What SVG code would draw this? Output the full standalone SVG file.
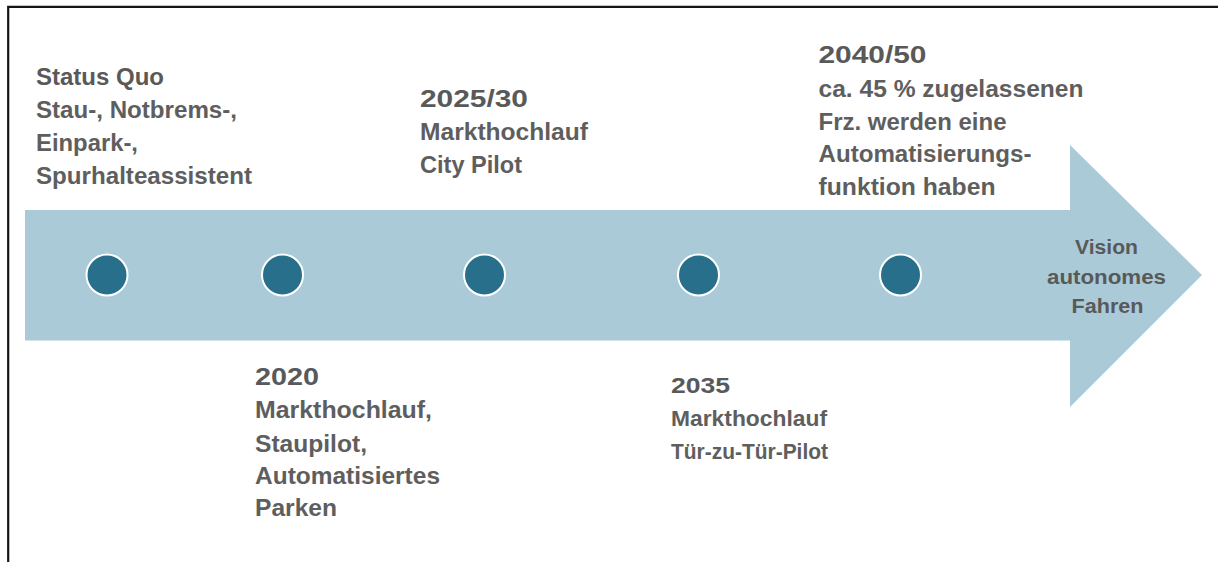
<svg xmlns="http://www.w3.org/2000/svg" width="1218" height="562" viewBox="0 0 1218 562">
  <style>
    .frame { fill: none; stroke: #151515; stroke-width: 2.2; }
    .band { fill: #AACAD8; }
    .dot { fill: #276F8B; stroke: #FFFFFF; stroke-width: 2; }
    .head { font-family: "Liberation Sans", Arial, sans-serif; font-weight: 700; font-size: 24px; fill: #595959; }
    .body { font-family: "Liberation Sans", Arial, sans-serif; font-weight: 700; font-size: 23px; fill: #5E5E5E; }
    .small { font-size: 22px; }
    .vision { font-family: "Liberation Sans", Arial, sans-serif; font-weight: 700; font-size: 19.5px; fill: #595959; text-anchor: middle; }
  </style>

  <rect width="1218" height="562" fill="#FFFFFF"/>
  <!-- outer frame, open on the right and bottom -->
  <path class="frame" d="M8.2,562 V6.8 H1218"/>

  <!-- timeline arrow -->
  <g id="timeline">
    <path class="band" d="M25,210 H1070 V145 L1202,275 L1070,407 V340.5 H25 Z"/>
    <text class="vision" x="1106.5" y="254" textLength="63" lengthAdjust="spacingAndGlyphs">Vision</text>
    <text class="vision" x="1106.5" y="283.5" textLength="119" lengthAdjust="spacingAndGlyphs">autonomes</text>
    <text class="vision" x="1107.5" y="313" textLength="72" lengthAdjust="spacingAndGlyphs">Fahren</text>
  </g>

  <!-- milestone markers -->
  <g id="markers">
    <circle class="dot" cx="107" cy="275" r="20.5"/>
    <circle class="dot" cx="282.5" cy="275" r="20.5"/>
    <circle class="dot" cx="484.5" cy="275" r="20.5"/>
    <circle class="dot" cx="698.5" cy="275" r="20.5"/>
    <circle class="dot" cx="900.5" cy="275" r="20.5"/>
  </g>

  <g id="status-quo">
    <text class="head" x="36" y="85" textLength="128" lengthAdjust="spacingAndGlyphs">Status Quo</text>
    <text class="body" x="36" y="118" textLength="201" lengthAdjust="spacingAndGlyphs">Stau-, Notbrems-,</text>
    <text class="body" x="36" y="151" textLength="102" lengthAdjust="spacingAndGlyphs">Einpark-,</text>
    <text class="body" x="36" y="183.5" textLength="216" lengthAdjust="spacingAndGlyphs">Spurhalteassistent</text>
  </g>

  <g id="m2020">
    <text class="head" x="255" y="385" textLength="64" lengthAdjust="spacingAndGlyphs">2020</text>
    <text class="body" x="255" y="418.3" textLength="177" lengthAdjust="spacingAndGlyphs">Markthochlauf,</text>
    <text class="body" x="255" y="451.5" textLength="112" lengthAdjust="spacingAndGlyphs">Staupilot,</text>
    <text class="body" x="255" y="483.5" textLength="185" lengthAdjust="spacingAndGlyphs">Automatisiertes</text>
    <text class="body" x="255" y="516" textLength="82" lengthAdjust="spacingAndGlyphs">Parken</text>
  </g>

  <g id="m2025">
    <text class="head" x="420" y="107.3" textLength="108" lengthAdjust="spacingAndGlyphs">2025/30</text>
    <text class="body" x="420" y="140" textLength="168" lengthAdjust="spacingAndGlyphs">Markthochlauf</text>
    <text class="body" x="420" y="172.7" textLength="102" lengthAdjust="spacingAndGlyphs">City Pilot</text>
  </g>

  <g id="m2035">
    <text class="head small" x="671" y="393.3" textLength="59" lengthAdjust="spacingAndGlyphs">2035</text>
    <text class="body small" x="671" y="426" textLength="156" lengthAdjust="spacingAndGlyphs">Markthochlauf</text>
    <text class="body small" x="671" y="459" textLength="157" lengthAdjust="spacingAndGlyphs">Tür-zu-Tür-Pilot</text>
  </g>

  <g id="m2040">
    <text class="head" x="818.5" y="63.3" textLength="108" lengthAdjust="spacingAndGlyphs">2040/50</text>
    <text class="body" x="818.5" y="96.7" textLength="265" lengthAdjust="spacingAndGlyphs">ca. 45 % zugelassenen</text>
    <text class="body" x="818.5" y="130" textLength="188" lengthAdjust="spacingAndGlyphs">Frz. werden eine</text>
    <text class="body" x="818.5" y="162.3" textLength="213" lengthAdjust="spacingAndGlyphs">Automatisierungs-</text>
    <text class="body" x="818.5" y="195" textLength="177" lengthAdjust="spacingAndGlyphs">funktion haben</text>
  </g>
</svg>
